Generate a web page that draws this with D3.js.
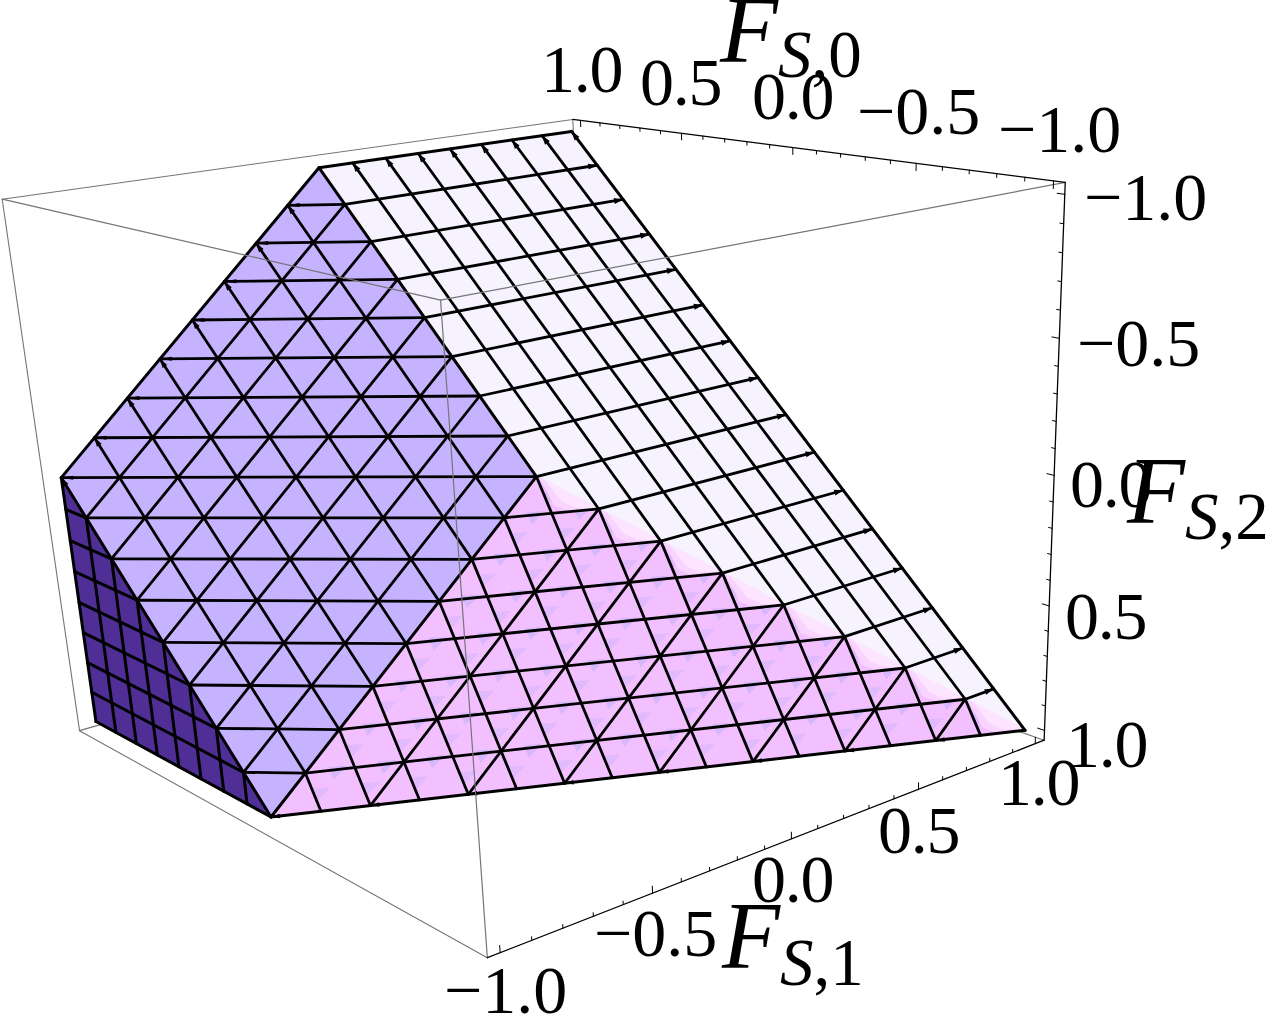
<!DOCTYPE html>
<html><head><meta charset="utf-8">
<script src="https://cdn.jsdelivr.net/npm/d3@7"></script>
<style>html,body{margin:0;background:#fff}svg{display:block}
text{font-family:"Liberation Serif",serif;fill:#000}</style></head>
<body><svg id="c" width="1267" height="1015"></svg>
<script>
// ---- polytope vertices in (F_S,0, F_S,1, F_S,2) ----
const T=[1,1,-1], A=[1,0,-1], R=[0,0,0], C=[-1,1,1], L=[1,-1,0], B=[0,-1,1], D=[1,-1,1];
const meshDivisions=8;
const majorTicks=[-1,-0.5,0,0.5,1];
const minorTicks=[-0.9,-0.8,-0.7,-0.6,-0.4,-0.3,-0.2,-0.1,0.1,0.2,0.3,0.4,0.6,0.7,0.8,0.9];
const boxPad=1.04;
// ---- calibration of the camera: where known 3D points appear on the page ----
const p=boxPad;
const calibration=[
 [T,572,133],[A,320,167],[R,537,477],[C,1026,731],[L,61,478],[B,271,816],[D,95,722],
 [[p,p,-p],572,118],[[-p,p,-p],1065,182],[[-p,p,p],1043,740],[[-p,-p,p],488,958],
 [[p,-p,-p],2,200],[[-p,-p,-p],440,300],[[p,-p,p],80,730]];

function solveCamera(pts){
  const n=11,AtA=d3.range(n).map(()=>new Array(n).fill(0)),Atb=new Array(n).fill(0);
  const add=(row,b)=>{for(let i=0;i<n;i++){Atb[i]+=row[i]*b;for(let j=0;j<n;j++)AtA[i][j]+=row[i]*row[j];}};
  pts.forEach(([[X,Y,Z],x,y])=>{
    add([X,Y,Z,1,0,0,0,0,-x*X,-x*Y,-x*Z],x);
    add([0,0,0,0,X,Y,Z,1,-y*X,-y*Y,-y*Z],y);
  });
  for(let i=0;i<n;i++){
    let m=i;for(let k=i+1;k<n;k++)if(Math.abs(AtA[k][i])>Math.abs(AtA[m][i]))m=k;
    [AtA[i],AtA[m]]=[AtA[m],AtA[i]];[Atb[i],Atb[m]]=[Atb[m],Atb[i]];
    for(let k=i+1;k<n;k++){const f=AtA[k][i]/AtA[i][i];
      for(let j=i;j<n;j++)AtA[k][j]-=f*AtA[i][j];Atb[k]-=f*Atb[i];}
  }
  const s=new Array(n).fill(0);
  for(let i=n-1;i>=0;i--){let v=Atb[i];for(let j=i+1;j<n;j++)v-=AtA[i][j]*s[j];s[i]=v/AtA[i][i];}
  return s;
}
const M=solveCamera(calibration);
const proj=([X,Y,Z])=>{const w=M[8]*X+M[9]*Y+M[10]*Z+1;
  return [(M[0]*X+M[1]*Y+M[2]*Z+M[3])/w,(M[4]*X+M[5]*Y+M[6]*Z+M[7])/w];};
const mix=(a,b,c,u,v)=>a.map((d,i)=>d+(b[i]-a[i])*u/meshDivisions+(c[i]-a[i])*v/meshDivisions);

const svg=d3.select("#c");
const poly=d3.line().curve(d3.curveLinearClosed);
const N=meshDivisions, I=d3.range(1,N);

function edges(sel,list,col,w){sel.selectAll(null).data(list).join("line")
  .attr("x1",d=>proj(d[0])[0]).attr("y1",d=>proj(d[0])[1])
  .attr("x2",d=>proj(d[1])[0]).attr("y2",d=>proj(d[1])[1])
  .attr("stroke",col).attr("stroke-width",w).attr("stroke-linecap","round");}
function faces(sel,list,fill){sel.selectAll(null).data(list).join("path")
  .attr("d",d=>poly(d.map(q=>proj(q)))).attr("fill",fill);}
// small wedge artefacts at mesh line ends, tip at a, aimed away from b
function wedges(sel,list,len,hw){sel.selectAll(null).data(list).join("path")
  .attr("d",([a,b])=>{const P=proj(a),Q=proj(b),dx=Q[0]-P[0],dy=Q[1]-P[1],l=Math.hypot(dx,dy),
    ux=dx/l,uy=dy/l,bx=P[0]+ux*len,by=P[1]+uy*len;
    return poly([P,[bx-uy*hw,by+ux*hw],[bx+uy*hw,by-ux*hw]]);}).attr("fill","#000");}

// ---- box: back edges ----
const e=(a,b)=>[a,b];
const gBack=svg.append("g");
edges(gBack,[
 e([p,p,-p],[p,-p,-p]),e([p,-p,-p],[p,-p,p]),e([p,-p,p],[-p,-p,p]),
 e([p,-p,p],[p,p,p]),e([p,p,-p],[p,p,p]),e([-p,p,p],[p,p,p])],"#757575",1.1);

// ---- faces ----
const gF=svg.append("g");
faces(gF,[[L,D,B]],"#4f2f96");
faces(gF,[[A,T,C,R]],"#f6f3ff");
faces(gF,[[A,R,B,L]],"#c5b3ff");
faces(gF,[[R,B,C]],"#f3c0ff");

// ---- pink face mottling and light band along R-C ----
const pk=(u,v)=>mix(R,B,C,u,v);
const anchors=[];
d3.range(0,16).forEach(i=>d3.range(0,16).forEach(j=>{
  const u=0.12+i*0.5,v=0.3+j*0.5;
  if(u+v<7.72)anchors.push({tri:[pk(u-.09,v+.1),pk(u+.09,v-.1),pk(u+.25,v+.07)],strong:(i+j)%2===1});
}));
svg.append("g").selectAll("path").data(anchors).join("path")
  .attr("d",d=>poly(d.tri.map(q=>proj(q)))).attr("fill",d=>d.strong?"#d6b7fb":"#e0bafd");
const gBand=svg.append("g");
const seg=d3.range(0,N);
faces(gBand,seg.map(m=>[pk(-.02,m),pk(-.02,m+1),pk(.3,m+.72),pk(.34,m+.45),pk(.12,m+.2)]),"#f8d4ff");
faces(gBand,seg.map(m=>[pk(-.02,m+.12),pk(-.02,m+1),pk(.19,m+.72),pk(.2,m+.5)]),"#fde4ff");

// ---- mesh ----
const gM=svg.append("g");
const lav=(u,v)=>mix(A,L,R,u,v);
const lavLines=[
 ...d3.range(1,2*N).map(k=>k<=N?e(lav(k,0),lav(0,k)):e(lav(N,k-N),lav(k-N,N))),
 ...I.map(k=>e(lav(k,0),lav(k,N))),
 ...I.map(k=>e(lav(0,k),lav(N,k)))];
const pinkLines=[
 ...I.map(k=>e(pk(k,0),pk(0,k))),
 ...I.map(j=>e(pk(0,j),pk(N-j,j))),
 ...d3.range(0,N).map(k=>e(pk(k,0),pk(k+(N-k)/2,(N-k)/2))),
 ...I.map(j=>e(pk(0,j),pk((N-j)/2,j+(N-j)/2)))];
const wh=(s,t)=>[1-t/N,s/N,-1+t/N]; // s along A->T, t towards R
const edgeRC=m=>pk(0,m);
const whiteLines=[
 ...I.map(s=>e(wh(s,0),edgeRC(s))),
 ...I.map(t=>e(wh(0,t),wh(N,t))),
 ...I.map(m=>e(edgeRC(m),wh(N,N+m))),
 e(R,wh(N,N))];
const dark=[
 ...I.map(j=>e([1,-1,j/N],[1-j/N,-1,j/N])),
 ...I.map(i=>e([1-i/N,-1,i/N],[1-i/N,-1,1]))];
const outline=[e(A,T),e(T,C),e(C,B),e(B,D),e(D,L),e(L,A),e(A,R),e(R,B),e(L,B)];
edges(gM,whiteLines,"#000",2.8);
edges(gM,pinkLines,"#000",2.8);
edges(gM,lavLines,"#000",2.8);
edges(gM,dark,"#000",3);
edges(gM,outline,"#000",3);

// ---- mesh end wedges ----
const gW=svg.append("g");
wedges(gW,I.map(s=>e(wh(s,0),wh(s,1))),9,3);
wedges(gW,[e(T,C)],9,3);
wedges(gW,d3.range(1,2*N).map(t=>e(wh(N,t),wh(0,t))),9,3);
wedges(gW,I.concat([N]).map(k=>e(lav(k,0),lav(k,N))),9,2.8);
wedges(gW,I.concat([N]).map(k=>e(lav(k,0),lav(0,k))),12,2);
wedges(gW,d3.range(0,N).map(k=>e(pk(N-k,k),pk(N-k-1,k+1))),9,2.2);

// ---- box: front edges drawn over the surface ----
const gFront=svg.append("g");
edges(gFront,[e([-p,-p,-p],[-p,p,-p]),e([-p,-p,-p],[p,-p,-p]),e([-p,-p,-p],[-p,-p,p])],"#757575",1.2);

// ---- axes with ticks ----
const gAxes=svg.append("g");
edges(gAxes,[e([p,p,-p],[-p,p,-p]),e([-p,p,-p],[-p,p,p]),e([-p,-p,p],[-p,p,p])],"#000",1.3);
const axisTicks=(vals,len)=>vals.flatMap(t=>[
  e([t,p,-p],[t,p,-p+len]),
  e([-p,p,t],[-p+len,p,t]),
  e([-p,t,p],[-p,t,p-len])]);
edges(gAxes,axisTicks(majorTicks,.026),"#000",1);
edges(gAxes,axisTicks(minorTicks,.013),"#000",1);

// ---- tick labels ----
const fmt=d3.format(".1f");
const tickFont=68;
const f0Labels=[[1,541,92],[0.5,640,105],[0,752,119],[-0.5,857,134],[-1,998,152]];
const f2Labels=[[-1,1084,220],[-0.5,1077,366],[0,1070,507],[0.5,1065,639],[1,1066,767]];
const f1Labels=[[1,998,805],[0.5,878,853],[0,752,902],[-0.5,594,956],[-1,444,1013]];
svg.append("g").selectAll("text").data([...f0Labels,...f2Labels,...f1Labels]).join("text")
  .attr("x",d=>d[1]).attr("y",d=>d[2]).attr("font-size",tickFont)
  .attr("letter-spacing",d=>d[0]<0?0:-1.3).text(d=>fmt(d[0]));

// ---- axis titles ----
const titles=[["0",720,62,778,77],["1",722,968,780,985],["2",1127,523,1185,539]];
const gT=svg.append("g");
titles.forEach(([n,x,y,sx,sy])=>{
  gT.append("text").attr("x",x).attr("y",y).attr("font-size",95).attr("font-style","italic").text("F");
  const t=gT.append("text").attr("x",sx).attr("y",sy).attr("font-size",67);
  t.append("tspan").attr("font-style","italic").text("S");
  t.append("tspan").text(","+n);
});
</script></body></html>
